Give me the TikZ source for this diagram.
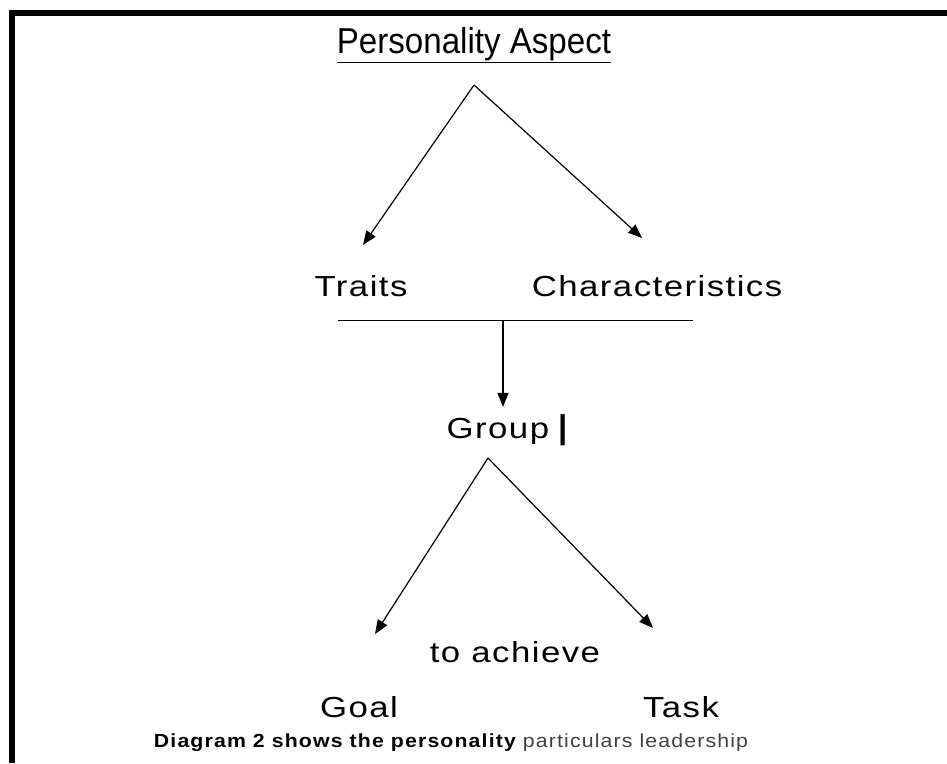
\documentclass[tikz,border=0pt]{standalone}
\usepackage{fontspec}
\setmainfont{Liberation Sans}
\newfontfamily\spaced[LetterSpace=5, FakeStretch=1.2]{Liberation Sans}
\newfontfamily\headfont[FakeStretch=0.92]{Liberation Sans}
\newfontfamily\notefont[LetterSpace=6, FakeStretch=1.12]{Liberation Sans}
\usetikzlibrary{arrows.meta}

\begin{document}
\begin{tikzpicture}[x=1pt, y=-1pt]
        \tikzstyle{word}=[inner sep=0, anchor=base, font=\fontsize{29}{31}\selectfont\spaced];
        \tikzstyle{pointer}=[line width=1.2pt, -{Triangle[length=14pt, width=11pt]}];

        \useasboundingbox (0,0) rectangle (947,763);
        \draw [line width=6pt] (12,763) -- (12,13) -- (947,13);

        \node [inner sep=0, anchor=base, font=\fontsize{36}{38}\selectfont\headfont] (aspect) at (474,53) {Personality Aspect};
        \draw [line width=1.5pt] ([yshift=-2pt] aspect.south west) -- ([yshift=-2pt] aspect.south east);

        \coordinate (top) at (474,85);
        \coordinate (traitsTip) at (363,245);
        \coordinate (charTip) at (642,238);
        \draw [pointer] (top) -- (traitsTip);
        \draw [pointer] (top) -- (charTip);

        \node [word] (traits) at (361,296) {Traits};
        \node [word] (char) at (657,296) {Characteristics};

        \coordinate (barL) at (338,320);
        \coordinate (barR) at (693,320);
        \coordinate (join) at (503,320);
        \draw [line width=1pt] (barL) -- (barR);

        \node [word] (group) at (507,438) {Group\hspace{9pt}{\fontspec{Liberation Sans}\bfseries\fontsize{33}{35}\selectfont|}};
        \draw [pointer] (join) -- ([yshift=7pt] group.north -| join);

        \coordinate (groupTop) at (488,458);
        \coordinate (goalTip) at (375,634);
        \coordinate (taskTip) at (653,628);
        \draw [pointer] (groupTop) -- (goalTip);
        \draw [pointer] (groupTop) -- (taskTip);

        \node [word] (achieve) at (515,662) {to achieve};
        \node [word] (goal) at (359,717) {Goal};
        \node [word] (task) at (681,717) {Task};

        \node [inner sep=0, anchor=base, font=\fontsize{19}{21}\selectfont\notefont] (caption) at (451,747) {\bfseries Diagram 2 shows the personality \mdseries\color{black!75}particulars leadership};
    \end{tikzpicture}
\end{document}
